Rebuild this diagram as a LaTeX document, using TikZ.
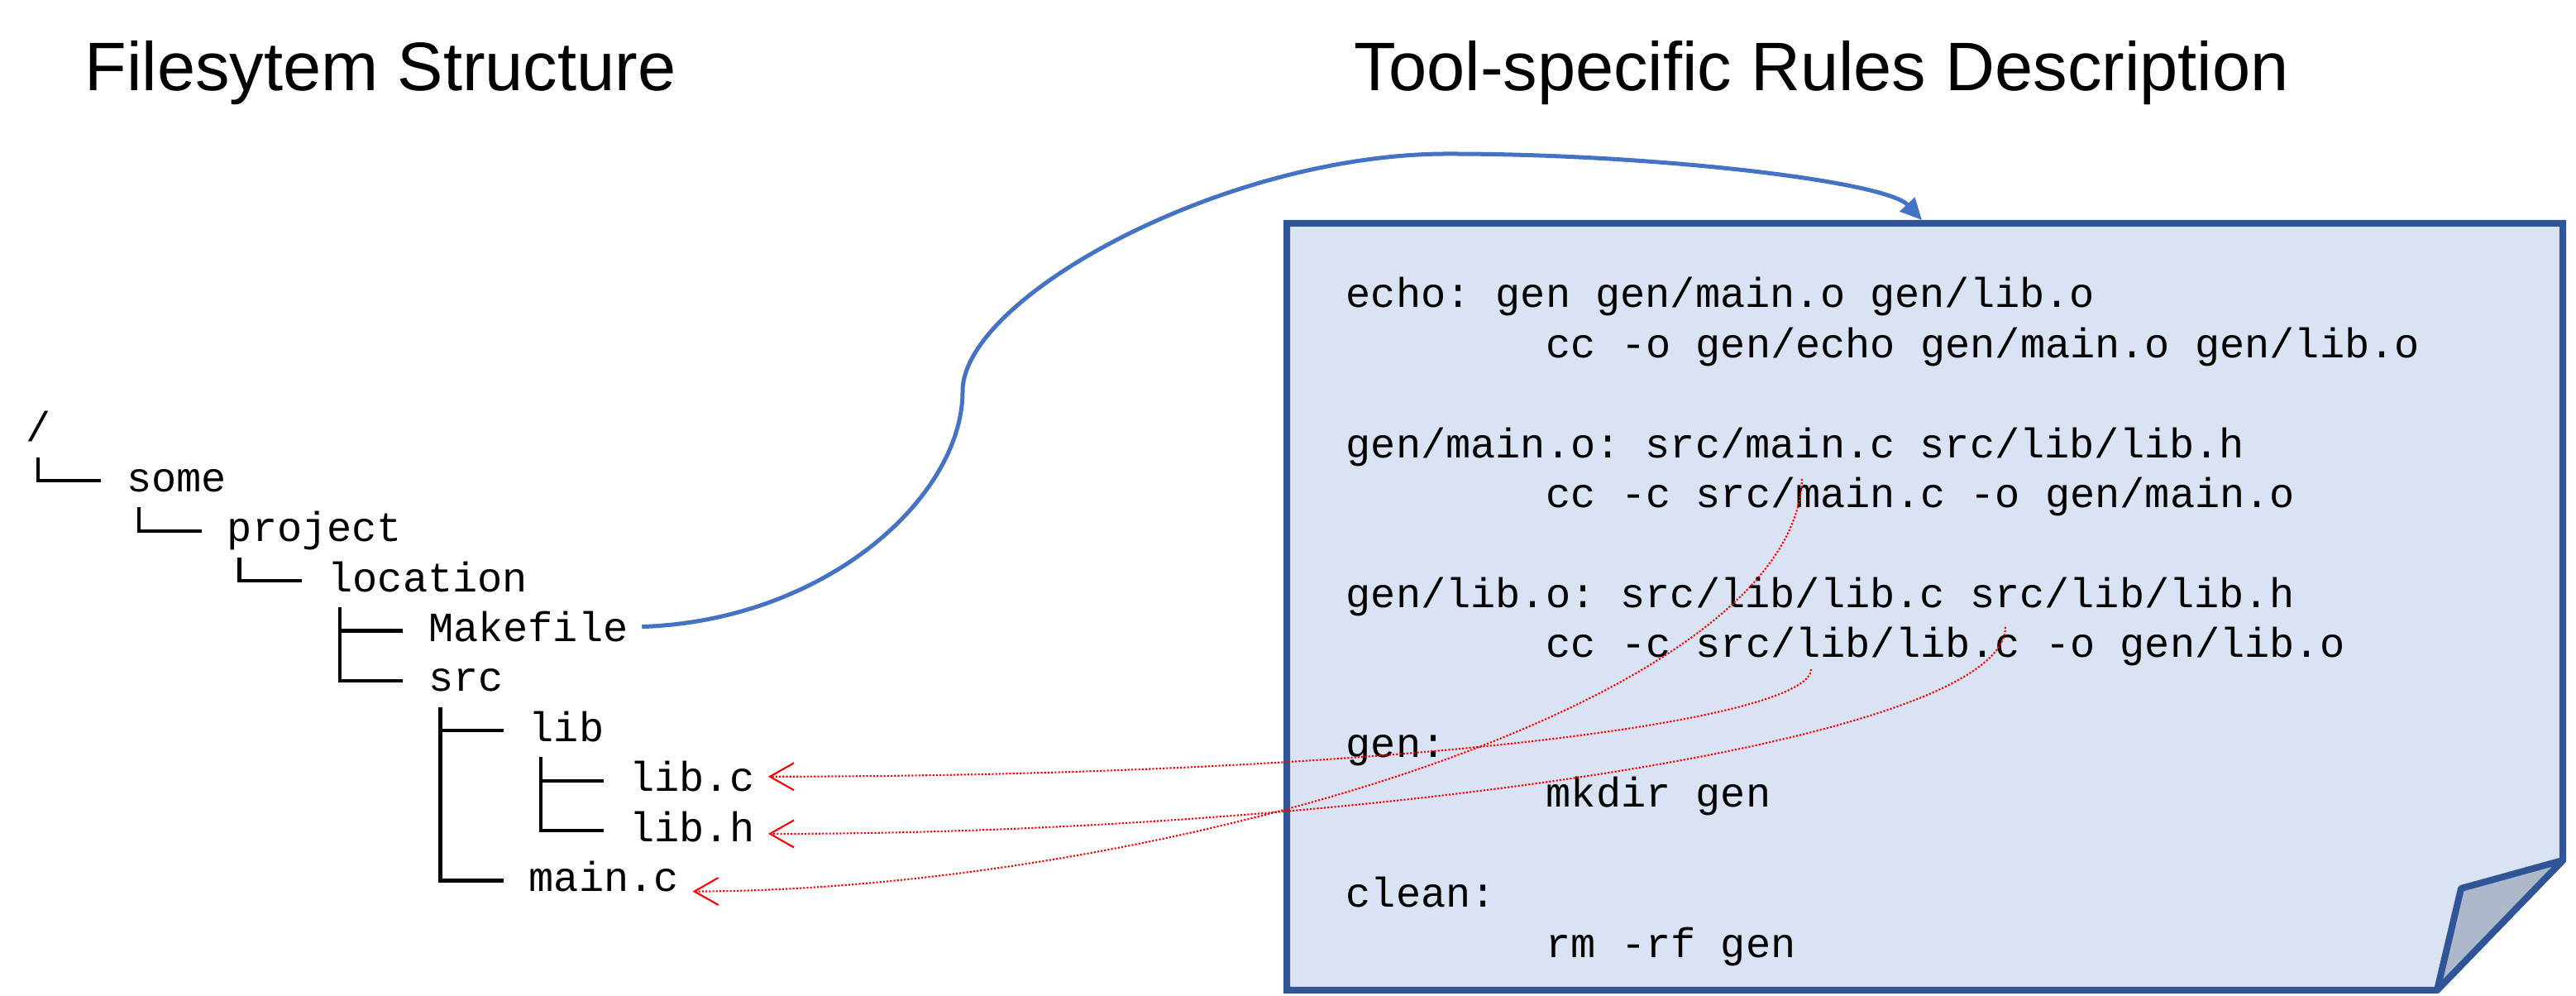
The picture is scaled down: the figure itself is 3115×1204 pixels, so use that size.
\documentclass[tikz,border=0pt]{standalone}
\usepackage{fontspec}
\setmainfont{Liberation Sans}
\newfontfamily\monofont{Liberation Mono}
\usetikzlibrary{arrows.meta,calc}

\definecolor{linkblue}{HTML}{4472C4}
\definecolor{pageblue}{HTML}{DAE3F3}
\definecolor{edgeblue}{HTML}{2F5597}
\definecolor{foldgray}{HTML}{ADB9CA}

\begin{document}
\frenchspacing
\begin{tikzpicture}[x=0.01cm,y=0.01cm,
  title/.style={anchor=base west,inner sep=0pt,font=\fontsize{23.6pt}{28pt}\selectfont},
  entry/.style={anchor=base west,inner xsep=0.16cm,inner ysep=0pt,font=\monofont\fontsize{14.3pt}{17pt}\selectfont},
  code/.style={anchor=base west,inner sep=0pt,font=\monofont\fontsize{14.3pt}{17pt}\selectfont},
  branch/.style={line width=1.2pt},
  link/.style={draw=red,line width=0.6pt,dash pattern=on 0.6pt off 0.6pt,
    -{Straight Barb[length=0.29cm,width=0.33cm,line width=0.6pt]}}]

\useasboundingbox (0,0) rectangle (3115,1204);

% headings
\node[title] (fstitle) at (102,1094) {Filesytem Structure};
\node[title] (ruletitle) at (1637,1094) {Tool-specific Rules Description};

% filesystem tree
\node[entry] (root) at (15,670) {/};
\node[entry] (some) at (136.6,609.6) {some};
\node[entry] (project) at (258.2,549.2) {project};
\node[entry] (location) at (379.8,488.8) {location};
\node[entry] (makefile) at (501.4,428.4) {Makefile};
\node[entry] (src) at (501.4,368) {src};
\node[entry] (lib) at (623,307.6) {lib};
\node[entry] (libc) at (744.6,247.2) {lib.c};
\node[entry] (libh) at (744.6,186.8) {lib.h};
\node[entry] (mainc) at (623,126.4) {main.c};

\draw[branch] ($(root.base west)+(31.2,-19)$) |- ($(some.base west)+(-14.4,13)$);
\draw[branch] ($(some.base west)+(31.2,-19)$) |- ($(project.base west)+(-14.4,13)$);
\draw[branch] ($(project.base west)+(31.2,-19)$) |- ($(location.base west)+(-14.4,13)$);
\draw[branch] ($(location.base west)+(31.2,-19)$) |- ($(makefile.base west)+(-14.4,13)$);
\draw[branch] ($(location.base west)+(31.2,-19)$) |- ($(src.base west)+(-14.4,13)$);
\draw[branch] ($(src.base west)+(31.2,-19)$) |- ($(lib.base west)+(-14.4,13)$);
\draw[branch] ($(src.base west)+(31.2,-19)$) |- ($(mainc.base west)+(-14.4,13)$);
\draw[branch] ($(lib.base west)+(31.2,-19)$) |- ($(libc.base west)+(-14.4,13)$);
\draw[branch] ($(lib.base west)+(31.2,-19)$) |- ($(libh.base west)+(-14.4,13)$);

% rules sheet with folded corner
\draw[edgeblue,line width=0.08cm,fill=pageblue]
  (1556,934) -- (3099,934) -- (3099,164) -- (2947,7) -- (1556,7) -- cycle;
\draw[edgeblue,line width=0.08cm,fill=foldgray,line join=bevel]
  (3099,164) -- (2976,130) -- (2947,7) -- cycle;

\node[code] (echorule) at (1627,832) {echo: gen gen/main.o gen/lib.o};
\node[code] (echocmd) at (1869,771.6) {cc -o gen/echo gen/main.o gen/lib.o};
\node[code] (mainrule) at (1627,650.8) {gen/main.o: src/main.c src/lib/lib.h};
\node[code] (maincmd) at (1869,590.4) {cc -c src/main.c -o gen/main.o};
\node[code] (librule) at (1627,469.6) {gen/lib.o: src/lib/lib.c src/lib/lib.h};
\node[code] (libcmd) at (1869,409.2) {cc -c src/lib/lib.c -o gen/lib.o};
\node[code] (genrule) at (1627,288.4) {gen:};
\node[code] (gencmd) at (1869,228) {mkdir gen};
\node[code] (cleanrule) at (1627,107.2) {clean:};
\node[code] (cleancmd) at (1869,46.8) {rm -rf gen};

% Makefile -> rules
\coordinate (sheettop) at (2324,938);
\draw[linkblue,line width=0.05cm,-{Triangle[length=0.26cm,width=0.24cm]}]
  (makefile.east) .. controls (1000,454) and (1164,604) .. (1164,731)
  .. controls (1164,844) and (1480,1018) .. (1751,1018)
  .. controls (2000,1018) and (2280,985) .. (sheettop);

% sources named in the rules
\coordinate (mainref) at (2179,625);
\coordinate (libcref) at (2190,395);
\coordinate (libhref) at (2425,446);
\draw[link] (mainref) .. controls (2170,354) and (1400,128) .. (mainc.base east);
\draw[link] (libcref) .. controls (2190,334) and (1700,266) .. (libc.east);
\draw[link] (libhref) .. controls (2425,304) and (1600,195) .. (libh.mid east);

\end{tikzpicture}
\end{document}
